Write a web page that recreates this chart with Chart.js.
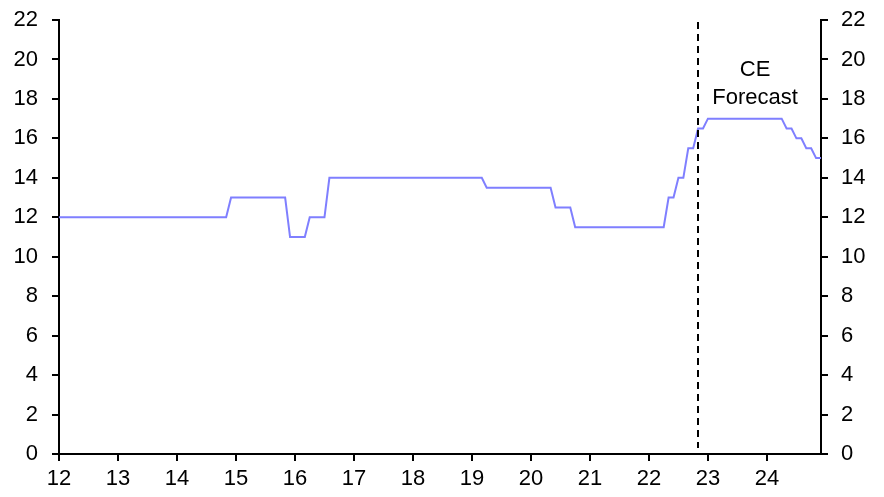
<!DOCTYPE html>
<html>
<head>
<meta charset="utf-8">
<script src="https://cdn.jsdelivr.net/npm/chart.js@4.4.1/dist/chart.umd.min.js"></script>
<style>
  html, body { margin: 0; padding: 0; background: #fff; }
  #wrap { width: 884px; height: 497px; }
</style>
</head>
<body>
<div id="wrap"><canvas id="rateChart" width="884" height="497"></canvas></div>
<script>
// monthly policy rate (%), Jan 2012 .. Dec 2024, one row per year
const rate = [
  12, 12, 12, 12, 12, 12, 12, 12, 12, 12, 12, 12,             // 2012
  12, 12, 12, 12, 12, 12, 12, 12, 12, 12, 12, 12,             // 2013
  12, 12, 12, 12, 12, 12, 12, 12, 12, 12, 12, 13,             // 2014
  13, 13, 13, 13, 13, 13, 13, 13, 13, 13, 13, 11,             // 2015
  11, 11, 11, 12, 12, 12, 12, 14, 14, 14, 14, 14,             // 2016
  14, 14, 14, 14, 14, 14, 14, 14, 14, 14, 14, 14,             // 2017
  14, 14, 14, 14, 14, 14, 14, 14, 14, 14, 14, 14,             // 2018
  14, 14, 14, 13.5, 13.5, 13.5, 13.5, 13.5, 13.5, 13.5, 13.5, 13.5, // 2019
  13.5, 13.5, 13.5, 13.5, 13.5, 12.5, 12.5, 12.5, 12.5, 11.5, 11.5, 11.5, // 2020
  11.5, 11.5, 11.5, 11.5, 11.5, 11.5, 11.5, 11.5, 11.5, 11.5, 11.5, 11.5, // 2021
  11.5, 11.5, 11.5, 11.5, 13, 13, 14, 14, 15.5, 15.5, 16.5, 16.5,       // 2022
  17, 17, 17, 17, 17, 17, 17, 17, 17, 17, 17, 17,             // 2023
  17, 17, 17, 17, 16.5, 16.5, 16, 16, 15.5, 15.5, 15, 15      // 2024
];
const firstYear = 12;          // x axis shows two-digit years
const yearTicks = [12, 13, 14, 15, 16, 17, 18, 19, 20, 21, 22, 23, 24];
const yTicks = [0, 2, 4, 6, 8, 10, 12, 14, 16, 18, 20, 22];
const forecastStart = 22 + 10 / 12;   // dashed line, Nov 2022
const forecastLabel = ["CE", "Forecast"];

const points = rate.map(function (v, i) {
  return { x: firstYear + i / 12, y: v };
});

const FONT = "'Liberation Sans', Arial, sans-serif";
const FS = 22;
Chart.defaults.font.family = FONT;
Chart.defaults.font.size = FS;
Chart.defaults.color = "#000";

const forecastMarker = {
  id: "forecastMarker",
  afterDatasetsDraw: function (chart) {
    const ctx = chart.ctx;
    const xs = chart.scales.x;
    const ys = chart.scales.y;
    const px = Math.round(xs.getPixelForValue(forecastStart));
    ctx.save();
    ctx.strokeStyle = "#000";
    ctx.lineWidth = 2;
    ctx.setLineDash([7, 5]);
    ctx.beginPath();
    ctx.moveTo(px, ys.getPixelForValue(21.9));
    ctx.lineTo(px, ys.getPixelForValue(0.3));
    ctx.stroke();
    ctx.setLineDash([]);
    ctx.fillStyle = "#000";
    ctx.font = FS + "px " + FONT;
    ctx.textAlign = "center";
    ctx.textBaseline = "middle";
    const tx = xs.getPixelForValue(23.8);
    ctx.fillText(forecastLabel[0], tx, ys.getPixelForValue(19.45));
    ctx.fillText(forecastLabel[1], tx, ys.getPixelForValue(18.05));
    ctx.restore();
  }
};

function axisStyle() {
  return {
    grid: { display: true, drawOnChartArea: false, drawTicks: true, tickLength: 7, color: "#000", lineWidth: 2 },
    border: { display: true, color: "#000", width: 2 }
  };
}

function fixY(width) {
  return function (s) {
    s.width = width;
    s.paddingTop = 0;
    s.paddingBottom = 0;
  };
}

const yLeft = Object.assign(axisStyle(), {
  type: "linear", position: "left", min: 0, max: 22,
  afterBuildTicks: function (s) { s.ticks = yTicks.map(function (v) { return { value: v }; }); },
  ticks: { padding: 14, font: { size: FS } },
  afterFit: fixY(59)
});
const yRight = Object.assign(axisStyle(), {
  type: "linear", position: "right", min: 0, max: 22,
  afterBuildTicks: function (s) { s.ticks = yTicks.map(function (v) { return { value: v }; }); },
  ticks: { padding: 13, font: { size: FS } },
  afterFit: fixY(63)
});
const xAxis = Object.assign(axisStyle(), {
  type: "linear", min: firstYear, max: firstYear + (rate.length - 1) / 12,
  afterBuildTicks: function (s) { s.ticks = yearTicks.map(function (v) { return { value: v }; }); },
  ticks: { padding: 5, font: { size: FS }, maxRotation: 0, autoSkip: false },
  afterFit: function (s) { s.height = 43; }
});

new Chart(document.getElementById("rateChart").getContext("2d"), {
  type: "line",
  data: {
    datasets: [{
      data: points,
      borderColor: "#7f7fff",
      borderWidth: 2,
      pointRadius: 0,
      tension: 0,
      fill: false
    }]
  },
  options: {
    responsive: false,
    animation: false,
    layout: { padding: { top: 20, left: 0, right: 0, bottom: 0 } },
    plugins: { legend: { display: false }, tooltip: { enabled: false } },
    scales: { x: xAxis, y: yLeft, y1: yRight }
  },
  plugins: [forecastMarker]
});
</script>
</body>
</html>
